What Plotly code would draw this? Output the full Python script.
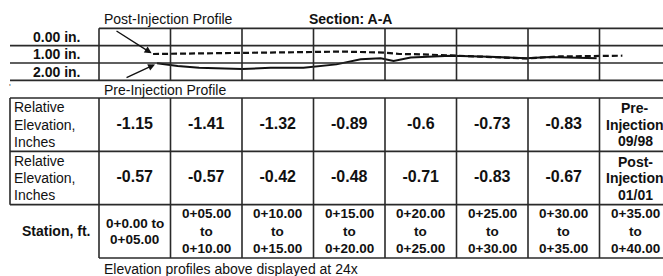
import plotly.graph_objects as go

# ---------------- data ----------------
station_start_ft = [0, 5, 10, 15, 20, 25, 30, 35]
station_labels = [
    ["0+0.00 to", "0+05.00"],
    ["0+05.00", "to", "0+10.00"],
    ["0+10.00", "to", "0+15.00"],
    ["0+15.00", "to", "0+20.00"],
    ["0+20.00", "to", "0+25.00"],
    ["0+25.00", "to", "0+30.00"],
    ["0+30.00", "to", "0+35.00"],
    ["0+35.00", "to", "0+40.00"],
]
pre_injection_elev = [-1.15, -1.41, -1.32, -0.89, -0.6, -0.73, -0.83]
post_injection_elev = [-0.57, -0.57, -0.42, -0.48, -0.71, -0.83, -0.67]
pre_row_tag = ["Pre-", "Injection", "09/98"]
post_row_tag = ["Post-", "Injection", "01/01"]
row_label = ["Relative", "Elevation,", "Inches"]
station_row_label = "Station, ft."

# profiles as displayed (depth below reference, inches, 24x exaggeration)
pre_profile_ft = [4.06, 5.5, 7.0, 10.0, 12.0, 14.3, 16.6, 18.3, 19.7, 20.6, 21.8,
                  24.6, 27.3, 29.9, 31.5, 34.8]
pre_profile_in = [1.52, 1.68, 1.78, 1.85, 1.78, 1.77, 1.58, 1.29, 1.23, 1.38, 1.19,
                  1.08, 1.14, 1.23, 1.15, 1.23]
post_profile_ft = [3.78, 6.0, 9.9, 13.0, 15.5, 17.0, 19.9, 21.0, 22.5, 26.6, 29.9,
                   32.2, 34.8, 36.6]
post_profile_in = [0.98, 0.96, 0.95, 0.92, 0.86, 0.84, 0.90, 0.98, 1.00, 1.13, 1.24,
                   1.12, 1.10, 1.08]
depth_ticks_in = [0, 1, 2]
depth_tick_text = ["0.00 in.", "1.00 in.", "2.00 in."]

# ---------------- layout constants ----------------
W, H = 663, 276
PX0, PXFT = 99.0, 14.3          # pixel of station 0, pixels per foot
D0, PXIN = 37.0, 17.33          # pixel of 0.00 in., pixels per inch band
ROW_TOP, ROW_H = 98.0, 53.33
LEFT_PX = 10.0
FONT = "Liberation Sans, Arial, sans-serif"
INK = "#111111"
GRID = "#2a2a2a"


def py(px):
    return 1 - px / H


x_left = (LEFT_PX - PX0) / PXFT
x_end = 40
x_range = [-PX0 / PXFT, (W - PX0) / PXFT]

fig = go.Figure()

fig.add_trace(go.Scatter(x=post_profile_ft, y=post_profile_in, mode="lines",
                         line=dict(color=INK, width=2.2, dash="6px,3px"),
                         xaxis="x", yaxis="y", hoverinfo="skip"))
fig.add_trace(go.Scatter(x=pre_profile_ft, y=pre_profile_in, mode="lines",
                         line=dict(color=INK, width=2),
                         xaxis="x", yaxis="y", hoverinfo="skip"))

cell_x = [s + 2.5 for s in station_start_ft[:len(pre_injection_elev)]]
fig.add_trace(go.Scatter(x=cell_x, y=[0.5] * len(cell_x), mode="text",
                         text=[f"<b>{v}</b>" for v in pre_injection_elev],
                         textfont=dict(family=FONT, size=16, color=INK),
                         xaxis="x2", yaxis="y2", cliponaxis=False, hoverinfo="skip"))
fig.add_trace(go.Scatter(x=cell_x, y=[1.5] * len(cell_x), mode="text",
                         text=[f"<b>{v}</b>" for v in post_injection_elev],
                         textfont=dict(family=FONT, size=16, color=INK),
                         xaxis="x2", yaxis="y2", cliponaxis=False, hoverinfo="skip"))

shapes = []
lw = 1.6
# top panel grid
for d in [0.5, 1.5, 2.5]:
    shapes.append(dict(type="line", xref="x", yref="y", x0=x_left, x1=x_end, y0=d, y1=d,
                       line=dict(color=GRID, width=lw)))
shapes.append(dict(type="line", xref="x", yref="y", x0=0, x1=x_end, y0=-0.5, y1=-0.5,
                   line=dict(color=GRID, width=lw)))
for s in station_start_ft + [40]:
    shapes.append(dict(type="line", xref="x", yref="y", x0=s, x1=s, y0=-0.5, y1=2.5,
                       line=dict(color=GRID, width=lw)))
# table grid
for r in [0, 1, 2]:
    shapes.append(dict(type="line", xref="x2", yref="y2", x0=x_left, x1=x_end, y0=r, y1=r,
                       line=dict(color=GRID, width=lw)))
shapes.append(dict(type="line", xref="x2", yref="y2", x0=0, x1=x_end, y0=3, y1=3,
                   line=dict(color=GRID, width=lw)))
shapes.append(dict(type="line", xref="x2", yref="y2", x0=x_left, x1=x_left, y0=0, y1=2,
                   line=dict(color=GRID, width=lw)))
for s in station_start_ft + [40]:
    shapes.append(dict(type="line", xref="x2", yref="y2", x0=s, x1=s, y0=0, y1=3,
                       line=dict(color=GRID, width=lw)))

ann = []


def txt(text, x, y, xref, yref, size=14, bold=False, xanchor="center", color=INK):
    t = f"<b>{text}</b>" if bold else text
    ann.append(dict(text=t, x=x, y=y, xref=xref, yref=yref, showarrow=False,
                    xanchor=xanchor, yanchor="middle",
                    font=dict(family=FONT, size=size, color=color)))


# depth labels
for d, t in zip(depth_ticks_in, depth_tick_text):
    txt(t, (56 - PX0) / PXFT, d, "x", "y", size=14, bold=True)

# titles / captions
txt("Post-Injection Profile", 102 / W, py(19.5), "paper", "paper", xanchor="left")
txt("Section: A-A", 307 / W, py(19.5), "paper", "paper", bold=True, xanchor="left")
txt("Pre-Injection Profile", 102 / W, py(89.5), "paper", "paper", xanchor="left")
txt("Elevation profiles above displayed at 24x", 102 / W, py(268.5), "paper", "paper",
    xanchor="left")
txt("'", 10 / W, py(87), "paper", "paper", size=9, color="#555")

# arrows
ann.append(dict(x=3.68, y=0.94, ax=1.12, ay=-0.40, xref="x", yref="y", axref="x", ayref="y",
                text="", showarrow=True, arrowhead=2, arrowsize=1, arrowwidth=1.4,
                arrowcolor=INK))
ann.append(dict(x=3.92, y=1.58, ax=1.82, ay=2.38, xref="x", yref="y", axref="x", ayref="y",
                text="", showarrow=True, arrowhead=2, arrowsize=1, arrowwidth=1.4,
                arrowcolor=INK))

# table text
lab_x = (12 - PX0) / PXFT
sp = 17.3 / ROW_H
for r in [0, 1]:
    for i, t in enumerate(row_label):
        txt(t, lab_x, r + 0.5 + (i - 1) * sp, "x2", "y2", xanchor="left")
for i, t in enumerate(pre_row_tag):
    txt(t, 37.5, 0.5 + (i - 1) * (16.5 / ROW_H), "x2", "y2", bold=True)
for i, t in enumerate(post_row_tag):
    txt(t, 37.5, 1.5 + (i - 1) * (16.5 / ROW_H), "x2", "y2", bold=True)
txt(station_row_label, (56 - PX0) / PXFT, 2.5, "x2", "y2", bold=True)
for s, lines in zip(station_start_ft, station_labels):
    n = len(lines)
    step = (16.0 if n == 2 else 17.5) / ROW_H
    for i, t in enumerate(lines):
        txt(t, s + 2.5, 2.5 + (i - (n - 1) / 2) * step, "x2", "y2", size=13.5, bold=True)

ax_common = dict(visible=False, showgrid=False, zeroline=False, fixedrange=True)
fig.update_layout(
    width=W, height=H,
    margin=dict(l=0, r=0, t=0, b=0),
    paper_bgcolor="white", plot_bgcolor="white",
    showlegend=False,
    xaxis=dict(domain=[0, 1], range=x_range, anchor="y", **ax_common),
    yaxis=dict(domain=[py(86), py(20)], range=[(86 - D0) / PXIN, (20 - D0) / PXIN],
               anchor="x", **ax_common),
    xaxis2=dict(domain=[0, 1], range=x_range, anchor="y2", **ax_common),
    yaxis2=dict(domain=[py(262), py(94)],
                range=[(262 - ROW_TOP) / ROW_H, (94 - ROW_TOP) / ROW_H],
                anchor="x2", **ax_common),
    shapes=shapes,
    annotations=ann,
)

fig.write_html(
    "out.html",
    config={"displayModeBar": False, "staticPlot": True},
    post_script="document.body.style.margin='0';document.body.style.overflow='hidden';",
)
